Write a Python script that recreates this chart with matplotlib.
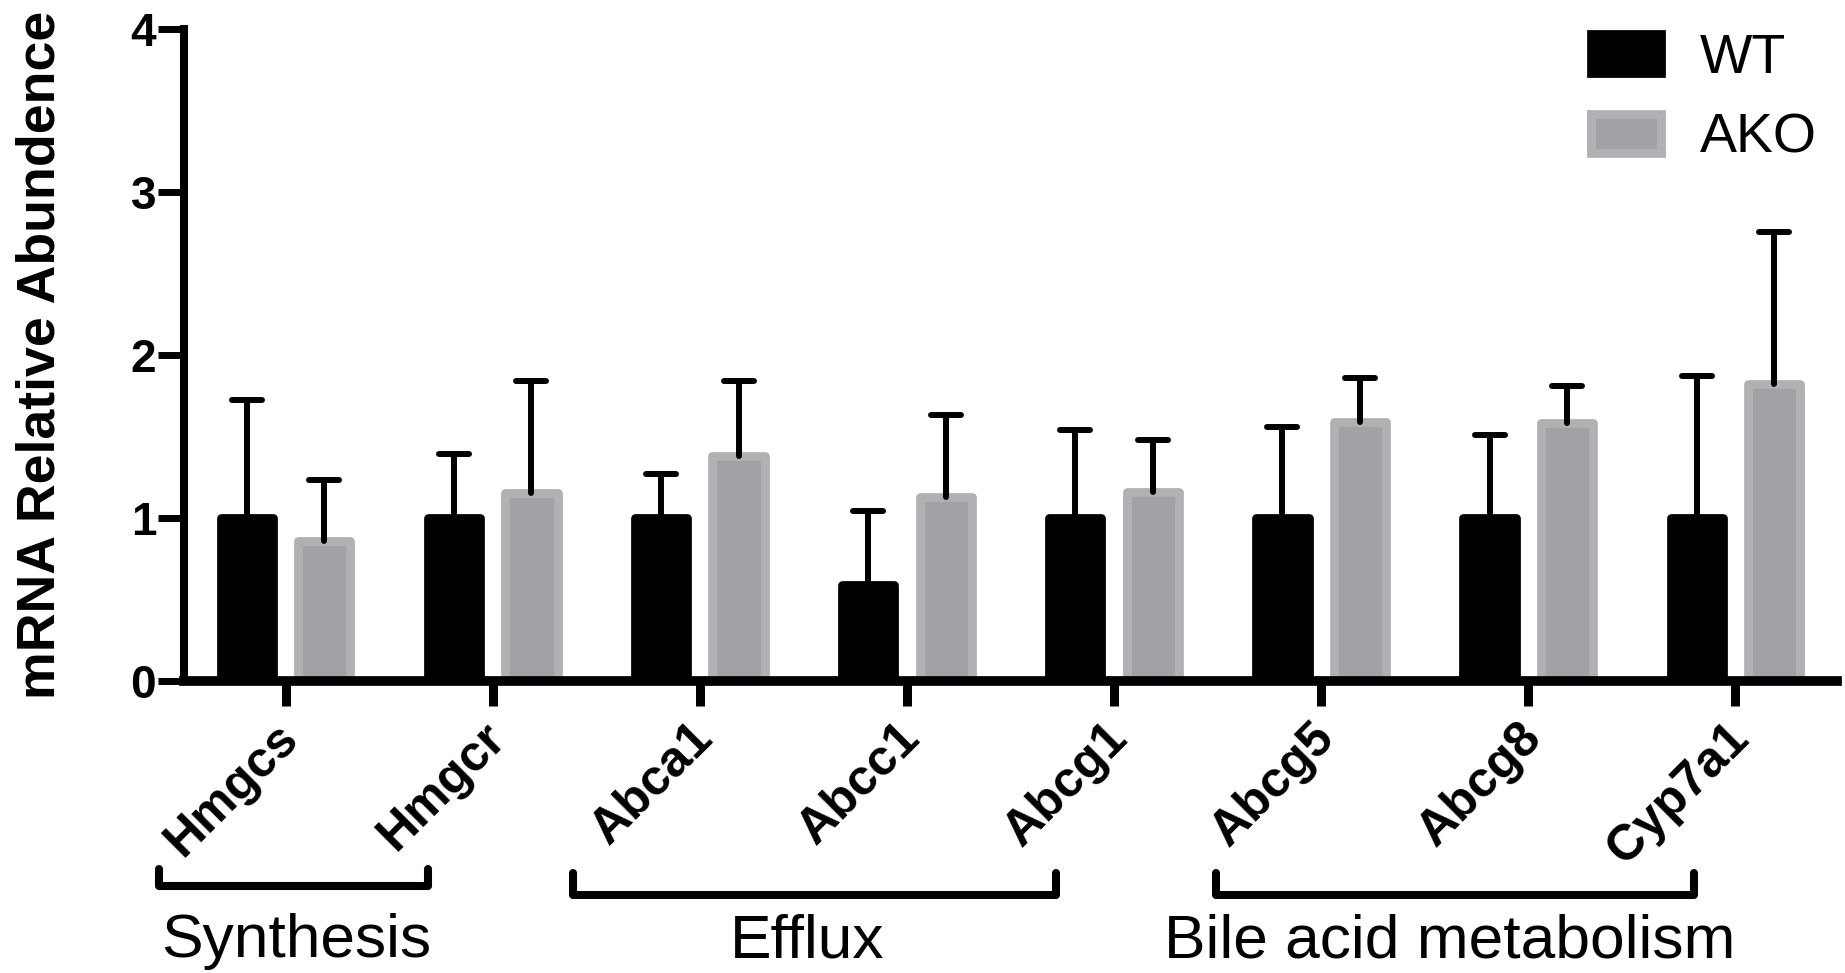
import numpy as np
import matplotlib
matplotlib.use('Agg')
import matplotlib.pyplot as plt
import matplotlib.transforms as mtransforms
from matplotlib.markers import MarkerStyle

plt.rcParams['font.family'] = ['Liberation Sans', 'DejaVu Sans']

# values
genes = ['Hmgcs', 'Hmgcr', 'Abca1', 'Abcc1', 'Abcg1', 'Abcg5', 'Abcg8', 'Cyp7a1']
wt_mean = [1.0, 1.0, 1.0, 0.59, 1.0, 1.0, 1.0, 1.0]
wt_err = [0.72, 0.39, 0.27, 0.45, 0.54, 0.56, 0.51, 0.87]
ako_mean = [0.86, 1.15, 1.38, 1.13, 1.16, 1.59, 1.58, 1.82]
ako_err = [0.37, 0.69, 0.46, 0.50, 0.32, 0.27, 0.23, 0.93]
series = ['WT', 'AKO']

# gene groups shown with brackets under the axis (span in gene positions)
groups = ['Synthesis', 'Efflux', 'Bile acid metabolism']
group_start = [-0.61, 1.39, 4.49]
group_end = [0.69, 3.72, 6.80]
group_label_pos = [0.05, 2.52, 5.62]

W, H = 1845, 973
fig = plt.figure(figsize=(W / 100, H / 100), dpi=100)
ax = fig.add_axes([184 / W, 1 - 681 / H, (1837 - 184) / W, (681 - 28.6) / H])

def fy(px):
    # pixel row -> figure fraction
    return 1 - px / H

x = np.arange(len(genes))
off = 0.187
bw = 0.2525

ax.bar(x - off, wt_mean, bw, color='black', edgecolor='black', lw=6.3,
       joinstyle='round', label=series[0], zorder=2)
ax.bar(x + off, ako_mean, bw, color='#a2a1a5', edgecolor='#b1b1b3', lw=6.3,
       joinstyle='round', label=series[1], zorder=2)

# upper error bars only
for xs, m, e in [(x - off, wt_mean, wt_err), (x + off, ako_mean, ako_err)]:
    eb = ax.errorbar(xs, m, yerr=[np.zeros(len(m)), e], fmt='none', ecolor='black',
                     elinewidth=4.3, capsize=10.8, capthick=4.3, zorder=3)
    for cap in eb[1]:
        if np.allclose(cap.get_ydata(), m):
            cap.set_visible(False)
        else:
            cap.set_marker(MarkerStyle('_', capstyle='round'))
    for lc in eb[2]:
        lc.set_capstyle('round')

ax.set_xlim(-0.49, 7.49)
ax.set_ylim(0, 4)
ax.set_yticks([0, 1, 2, 3, 4])
ax.set_yticklabels(['0', '1', '2', '3', '4'], fontsize=33, fontweight='bold')
ax.set_xticks(x)
ax.set_xticklabels(genes, rotation=45, ha='right', va='center', rotation_mode='anchor',
                   fontsize=36, fontweight='bold')
ax.tick_params(axis='y', length=19, width=5, pad=1)
ax.tick_params(axis='x', length=18, width=6.5, pad=18)
# nudge the slanted gene names a little to the right, like the original
shift = mtransforms.ScaledTranslation(0.06, 0, fig.dpi_scale_trans)
for lab in ax.get_xticklabels():
    lab.set_transform(lab.get_transform() + shift)

for s in ['top', 'right']:
    ax.spines[s].set_visible(False)
ax.spines['left'].set_linewidth(5.8)
ax.spines['bottom'].set_linewidth(7)

ax.set_ylabel('mRNA Relative Abundence', fontsize=38.6, fontweight='bold')
ax.yaxis.set_label_coords(-0.0718, 0.5)

# group brackets
blend = mtransforms.blended_transform_factory(ax.transData, fig.transFigure)
line_y = [886, 895, 895]
top_y = [869, 873, 873]
for name, x0, x1, xl, ly, ty in zip(groups, group_start, group_end, group_label_pos,
                                    line_y, top_y):
    ax.plot([x0, x0, x1, x1], [fy(ty), fy(ly), fy(ly), fy(ty)], transform=blend,
            color='black', lw=5.8, clip_on=False, solid_joinstyle='round',
            solid_capstyle='round')
    ax.text(xl, fy(957), name, transform=blend, ha='center',
            va='baseline', fontsize=44.8)

ax.legend(loc='upper left', bbox_to_anchor=(1591 / W, fy(33)), bbox_transform=fig.transFigure,
          frameon=False, fontsize=40, handlelength=1.26, handleheight=0.70,
          handletextpad=0.7, labelspacing=0.5, borderpad=0, borderaxespad=0)

fig.savefig('out.png', dpi=100)
